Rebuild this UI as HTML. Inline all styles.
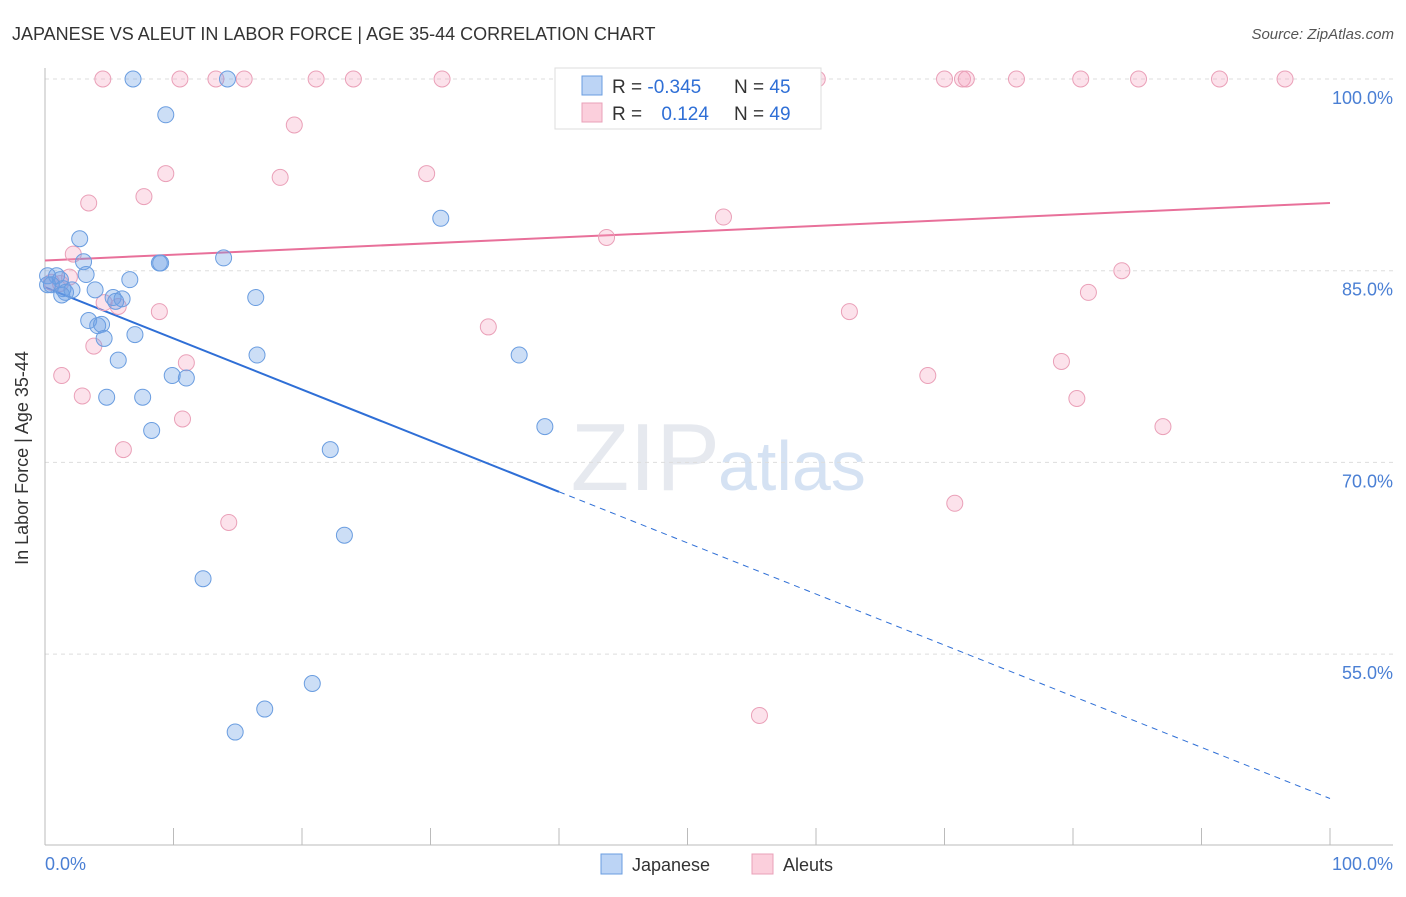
<!DOCTYPE html>
<html><head><meta charset="utf-8"><style>
body{margin:0;background:#fff;font-family:"Liberation Sans",sans-serif;}
svg text{font-family:"Liberation Sans",sans-serif;}
</style></head><body>
<svg id="chart" width="1406" height="892" viewBox="0 0 1406 892">
<text x="12" y="40" font-size="18" fill="#333">JAPANESE VS ALEUT IN LABOR FORCE | AGE 35-44 CORRELATION CHART</text>
<text x="1394" y="39" font-size="15" fill="#555" text-anchor="end" font-style="italic">Source: ZipAtlas.com</text>
<text x="720" y="490" font-size="96" fill="#e6e9ef" text-anchor="end" font-family="Liberation Serif">ZIP</text>
<text x="718" y="490" font-size="70" fill="#d5e2f3">atlas</text>
<g id="grid"></g><g id="axes"></g><g id="trend"></g><g id="points"></g>
<text x="28" y="458" font-size="18" fill="#333" text-anchor="middle" transform="rotate(-90 28 458)">In Labor Force | Age 35-44</text>
<text x="45" y="870" font-size="18" fill="#4a7fd4">0.0%</text>
<text x="1393" y="870" font-size="18" fill="#4a7fd4" text-anchor="end">100.0%</text>
<g>
<rect x="555" y="68" width="266" height="61" fill="#fff" stroke="#ddd"/>
<rect x="582" y="76" width="20" height="19" fill="#bcd4f5" stroke="#6a9de0"/>
<rect x="582" y="103" width="20" height="19" fill="#fbcfdc" stroke="#eaa0b8"/>
<text x="612" y="93" font-size="19" fill="#333">R = <tspan fill="#2f6fd6">-0.345</tspan></text>
<text x="734" y="93" font-size="19" fill="#333">N = <tspan fill="#2f6fd6">45</tspan></text>
<text x="612" y="120" font-size="19" fill="#333">R = <tspan fill="#2f6fd6" dx="14">0.124</tspan></text>
<text x="734" y="120" font-size="19" fill="#333">N = <tspan fill="#2f6fd6">49</tspan></text>
</g>
<g>
<rect x="601" y="854" width="21" height="20" fill="#bcd4f5" stroke="#6a9de0"/>
<text x="632" y="871" font-size="18" fill="#333">Japanese</text>
<rect x="752" y="854" width="21" height="20" fill="#fbcfdc" stroke="#eaa0b8"/>
<text x="783" y="871" font-size="18" fill="#333">Aleuts</text>
</g>
</svg>
<script>
const yTicks=[100,85,70,55];
const yTickLabels=["100.0%","85.0%","70.0%","55.0%"];
const xTicks=[0,10,20,30,40,50,60,70,80,90,100];
const japX=[6.85,14.2,9.4,2.7,3.0,8.9,9.0,13.9,0.2,0.9,1.2,3.2,6.6,0.5,1.4,1.6,2.1,3.9,5.3,6.0,5.5,16.4,3.4,4.1,4.4,4.6,7.0,5.7,16.5,9.9,11.0,4.8,7.6,8.3,22.2,30.8,36.9,38.9,23.3,12.3,20.8,17.1,14.8,0.2,1.3];
const japY=[100,100,97.2,87.5,85.7,85.6,85.6,86.0,84.6,84.6,84.3,84.7,84.3,83.9,83.6,83.3,83.5,83.5,82.9,82.8,82.6,82.9,81.1,80.7,80.8,79.7,80.0,78.0,78.4,76.8,76.6,75.1,75.1,72.5,71.0,89.1,78.4,72.8,64.3,60.9,52.7,50.7,48.9,83.9,83.1];
const aleX=[4.5,10.5,13.3,15.5,21.1,24.0,30.9,56.4,60.1,70.0,71.4,71.7,75.6,80.6,85.1,91.4,96.5,19.4,9.4,18.3,29.7,7.7,3.4,52.8,43.7,2.2,83.8,0.5,1.2,1.9,81.2,4.6,5.7,8.9,62.6,34.5,3.8,11.0,79.1,1.3,68.7,2.9,80.3,10.7,87.0,6.1,70.8,14.3,55.6];
const aleY=[100,100,100,100,100,100,100,100,100,100,100,100,100,100,100,100,100,96.4,92.6,92.3,92.6,90.8,90.3,89.2,87.6,86.3,85.0,84.1,84.0,84.5,83.3,82.5,82.2,81.8,81.8,80.6,79.1,77.8,77.9,76.8,76.8,75.2,75.0,73.4,72.8,71.0,66.8,65.3,50.2];
const japTrend=[83.7,43.7];
const aleTrend=[85.8,90.3];
const japSolidEnd=40;
const NS="http://www.w3.org/2000/svg";
const X=v=>45+v*12.85;
const Y=v=>79+(100-v)*12.78;
function mk(tag,attrs,parent){const e=document.createElementNS(NS,tag);for(const k in attrs)e.setAttribute(k,attrs[k]);document.getElementById(parent).appendChild(e);return e;}
yTicks.forEach((t,i)=>{
 const l=mk('line',{x1:45,x2:1393,y1:Y(t),y2:Y(t),stroke:'#ddd','stroke-dasharray':'4,4'},'grid');
 
 
 const tx=mk('text',{x:1393,y:Y(t)+25,'font-size':18,fill:'#4a7fd4','text-anchor':'end'},'grid');
 tx.textContent=yTickLabels[i];
 
 
});
const ya=mk('line',{x1:45,x2:45,y1:68,y2:845,stroke:'#bbb'},'axes');


const xa=mk('line',{x1:45,x2:1393,y1:845,y2:845,stroke:'#bbb'},'axes');


xTicks.forEach(t=>{
 const l=mk('line',{x1:X(t),x2:X(t),y1:828,y2:845,stroke:'#bbb'},'axes');
 
 
});
const jy=x=>japTrend[0]+(japTrend[1]-japTrend[0])*x/100;
const t1=mk('line',{x1:X(0),y1:Y(jy(0)),x2:X(japSolidEnd),y2:Y(jy(japSolidEnd)),stroke:'#2f6fd6','stroke-width':2},'trend');


const t2=mk('line',{x1:X(japSolidEnd),y1:Y(jy(japSolidEnd)),x2:X(100),y2:Y(jy(100)),stroke:'#2f6fd6','stroke-width':1,'stroke-dasharray':'6,5'},'trend');


const t3=mk('line',{x1:X(0),y1:Y(aleTrend[0]),x2:X(100),y2:Y(aleTrend[1]),stroke:'#e8709a','stroke-width':2},'trend');


aleX.forEach((x,i)=>{
 const c=mk('circle',{cx:X(x),cy:Y(aleY[i]),r:8,fill:'rgba(245,160,190,0.3)',stroke:'#eaa0b8','stroke-width':1},'points');
 
 
});
japX.forEach((x,i)=>{
 const c=mk('circle',{cx:X(x),cy:Y(japY[i]),r:8,fill:'rgba(110,160,230,0.35)',stroke:'#6a9de0','stroke-width':1},'points');
 
 
});
</script>
</body></html>
